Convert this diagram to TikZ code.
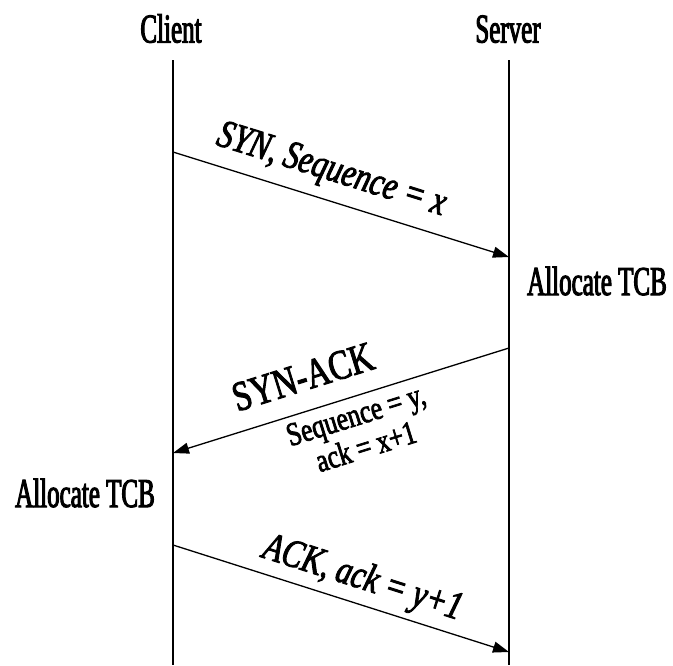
\documentclass[tikz,border=0pt]{standalone}
\usepackage{fontspec}
\usetikzlibrary{arrows.meta}
% tall, condensed, heavy Times-like faces for the party names and the message labels
\newfontfamily\headfont[FakeStretch=0.61,FakeBold=2.5]{Liberation Serif}
\newfontfamily\msgfont[FakeStretch=0.78,FakeBold=2.2]{Liberation Serif}
\begin{document}
\begin{tikzpicture}[x=1pt,y=-1pt,
  lifeline/.style={line width=1.5pt},
  msg/.style={line width=1.3pt,-{Triangle[length=16pt,width=11pt]}},
  party/.style={inner sep=0pt,anchor=base,font=\headfont\fontsize{41}{46}\selectfont},
  msglabel/.style={inner sep=0pt,anchor=base,font=\msgfont\fontsize{40}{44}\selectfont},
  acklabel/.style={inner sep=0pt,anchor=base,font=\msgfont\fontsize{42}{46}\selectfont},
  detail/.style={inner sep=0pt,anchor=base,font=\msgfont\fontsize{33}{36}\selectfont}]
\useasboundingbox (0,0) rectangle (673,665);

% party names
\node[party] (client) at (171,42.5) {Client};
\node[party] (server) at (508,42.5) {Server};

% lifelines
\coordinate (ctop) at (173,60);
\coordinate (cbot) at (173,665);
\coordinate (stop) at (509,60);
\coordinate (sbot) at (509,665);
\draw[lifeline] (ctop) -- (cbot);
\draw[lifeline] (stop) -- (sbot);

% message end points on the lifelines
\coordinate (c1) at (173,152);
\coordinate (s1) at (509,257);
\coordinate (s2) at (509,348);
\coordinate (c2) at (173,453);
\coordinate (c3) at (173,545);
\coordinate (s3) at (509,652);

% SYN
\draw[msg] (c1) -- (s1);
\node[msglabel,rotate=-17.35] (syn) at (328.5,180) {\itshape SYN, Sequence = x};
\node[party] (tcbserver) at (597,295) {Allocate TCB};

% SYN-ACK
\draw[msg] (s2) -- (c2);
\node[acklabel,rotate=17.35] (synack) at (307,390) {SYN-ACK};
\node[detail,rotate=17.35] (seqy) at (359,425) {Sequence = y,};
\node[detail,rotate=17.35] (ackx) at (369,457) {ack = x+1};
\node[party] (tcbclient) at (85,507) {Allocate TCB};

% ACK
\draw[msg] (c3) -- (s3);
\node[msglabel,rotate=-17.7] (ack) at (359.5,588.5) {\itshape ACK, ack = y+1};
\end{tikzpicture}
\end{document}
